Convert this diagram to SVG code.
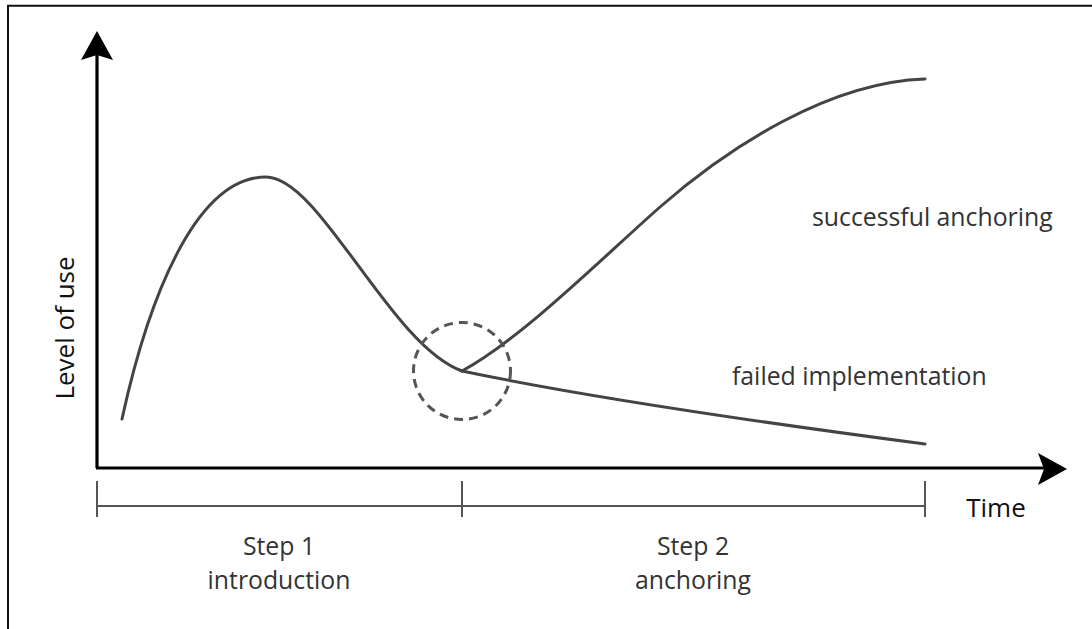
<svg xmlns="http://www.w3.org/2000/svg" width="1092" height="629" viewBox="0 0 1092 629">
<style>
.frame{fill:none;stroke:#111;stroke-width:2}
.axis{fill:none;stroke:#000;stroke-width:3.2}
.head{fill:#000;stroke:none}
.curve{fill:none;stroke:#444;stroke-width:3;stroke-linecap:round}
.bracket{fill:none;stroke:#555;stroke-width:2}
.ring{fill:none;stroke:#555;stroke-width:3;stroke-dasharray:9 6}
.lbl{font-family:"Open Sans","Noto Sans","Liberation Sans",sans-serif;fill:#333;font-size:24.8px}
.ax{font-family:"Open Sans","Noto Sans","Liberation Sans",sans-serif;fill:#111;font-size:26px}
</style>
<rect width="1092" height="629" fill="#fff"/>
<path class="frame" d="M8,629 V5.7 H1092"/>
<g id="axes">
<path class="axis" d="M97,468 V55"/>
<path class="axis" d="M96,468 H1045"/>
<path class="head" d="M97,31 L113,60 L97,55 L81,60 Z"/>
<path class="head" d="M1067,469 L1038,485 L1044,469 L1038,453 Z"/>
</g>
<g id="bracket">
<path class="bracket" d="M97,506 H925 M97,481 V517 M462,481 V517 M925,481 V517"/>
</g>
<g id="connectors">
<path class="curve" d="M122,419 C148,300 195,177 266,177 C320,177 390,345 462,371"/>
<path class="curve" d="M462,371 C520,340 600,260 660,207 C730,146 830,82 925,79"/>
<path class="curve" d="M462,371 C600,400 780,425 925,444"/>
</g>
<g id="focus">
<circle class="ring" cx="462" cy="371" r="48.5"/>
</g>
<g id="labels">
<text class="ax" transform="translate(74,328) rotate(-90)" text-anchor="middle">Level of use</text>
<text class="ax" x="996" y="517" text-anchor="middle">Time</text>
<text class="lbl" x="812" y="226">successful anchoring</text>
<text class="lbl" x="732" y="385">failed implementation</text>
<text class="lbl" x="279" y="555" text-anchor="middle">Step 1</text>
<text class="lbl" x="279" y="589" text-anchor="middle">introduction</text>
<text class="lbl" x="693" y="555" text-anchor="middle">Step 2</text>
<text class="lbl" x="693" y="589" text-anchor="middle">anchoring</text>
</g>
</svg>
